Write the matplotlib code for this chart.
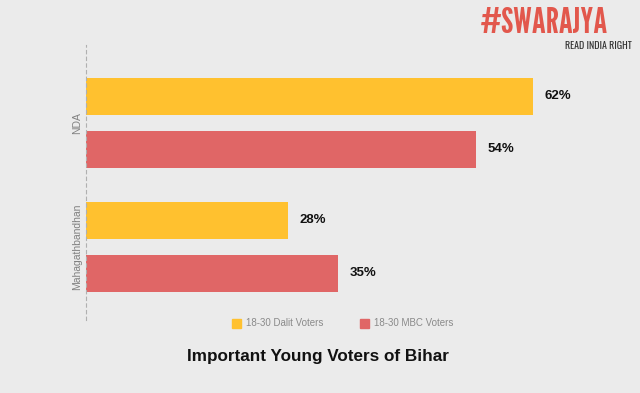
import matplotlib
matplotlib.use("Agg")
import matplotlib.pyplot as plt
from matplotlib.patches import Rectangle

groups = ["NDA", "Mahagathbandhan"]
series_names = ["18-30 Dalit Voters", "18-30 MBC Voters"]
dalit = [62, 28]
mbc = [54, 35]
colors = ["#FFC12F", "#E06666"]
bg = "#EBEBEB"

fig = plt.figure(figsize=(6.4, 3.93), dpi=100)
fig.patch.set_facecolor(bg)
W, H = 640, 393
ax = fig.add_axes([86 / W, 1 - 320 / H, (627 - 86) / W, (320 - 45) / H])
ax.set_facecolor(bg)

off = 0.2137
h = 0.298
ys = [0, 1]
for i, vals in enumerate([dalit, mbc]):
    pos = [y + (-off if i == 0 else off) for y in ys]
    bars = ax.barh(pos, vals, height=h, color=colors[i], label=series_names[i])
    for b, v in zip(bars, vals):
        ax.text(b.get_width() + 1.6, b.get_y() + b.get_height() / 2, f"{v}%",
                va="center", ha="left", fontsize=9.5, fontweight="bold",
                color="#111111", family="Liberation Sans")

ax.set_xlim(0, 75)
ax.set_ylim(1.589, -0.629)
ax.set_yticks(ys)
ax.set_yticklabels(groups, rotation=90, va="center", fontsize=7.5,
                   color="#808080", family="Liberation Sans")
ax.tick_params(axis="y", length=0, pad=3)
ax.set_xticks([])
for s in ["top", "right", "bottom"]:
    ax.spines[s].set_visible(False)
ax.spines["left"].set_color("#b0b0b0")
ax.spines["left"].set_linestyle((0, (3, 3)))
ax.spines["left"].set_linewidth(0.8)

for x0, name, c in [(232, series_names[0], colors[0]), (360, series_names[1], colors[1])]:
    fig.patches.append(Rectangle((x0 / W, 1 - 328 / H), 9 / W, 9 / H,
                                 transform=fig.transFigure, color=c))
    fig.text((x0 + 14) / W, 1 - 323.5 / H, name, va="center", ha="left",
             fontsize=7, color="#8a8a8a", family="Liberation Sans")

fig.text(318 / W, 1 - 357 / H, "Important Young Voters of Bihar", ha="center",
         va="center", fontsize=12.3, fontweight="bold", color="#111111",
         family="Liberation Sans")

fig.text(608 / W, 1 - 33 / H, "#SWARAJYA", ha="right", va="baseline",
         fontsize=26, color="#E2574C",
         family=["League Gothic", "Oswald", "DejaVu Sans"])
fig.text(632 / W, 1 - 49 / H, "READ INDIA RIGHT", ha="right", va="baseline",
         fontsize=7.2, fontweight="bold", color="#333333",
         family=["Oswald", "League Gothic", "DejaVu Sans"])

fig.savefig("out.png", dpi=100, facecolor=bg)
